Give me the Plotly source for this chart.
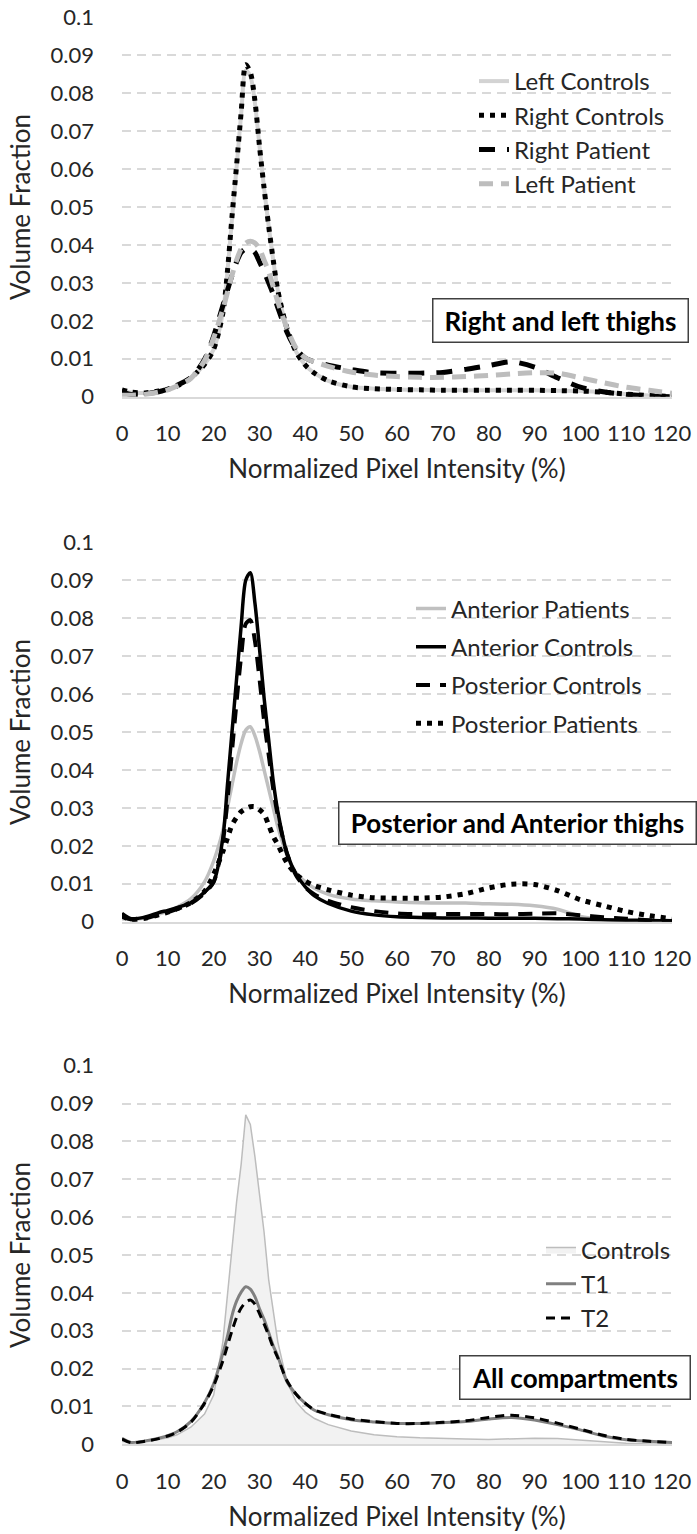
import plotly.graph_objects as go

# ---------------- data ----------------
x = [0, 2, 5, 8, 10, 12, 15, 18, 20, 22, 23, 24, 25, 26, 27, 28, 29, 30, 31, 32, 33, 34,
     36, 38, 40, 42, 45, 50, 55, 60, 65, 70, 75, 80, 85, 90, 95, 100, 105, 110, 115, 120]

# Panel 1: Right and left thighs
left_controls = [0.0016, 0.0011, 0.0010, 0.0015, 0.0020, 0.0028, 0.0050, 0.0085, 0.0125, 0.0220, 0.0330,
                 0.0470, 0.0605, 0.0745, 0.0860, 0.0845, 0.0775, 0.0660, 0.0550, 0.0450, 0.0360, 0.0280,
                 0.0180, 0.0118, 0.0083, 0.0062, 0.0042, 0.0026, 0.0021, 0.0019, 0.0018, 0.0017, 0.0017,
                 0.0017, 0.0017, 0.0017, 0.0016, 0.0015, 0.0012, 0.0007, 0.0003, 0.0001]
right_controls = [0.0018, 0.0012, 0.0010, 0.0015, 0.0020, 0.0028, 0.0050, 0.0085, 0.0125, 0.0220, 0.0330,
                  0.0475, 0.0610, 0.0750, 0.0875, 0.0855, 0.0780, 0.0660, 0.0550, 0.0450, 0.0360, 0.0280,
                  0.0180, 0.0118, 0.0083, 0.0062, 0.0042, 0.0026, 0.0021, 0.0019, 0.0018, 0.0017, 0.0017,
                  0.0017, 0.0017, 0.0017, 0.0016, 0.0015, 0.0012, 0.0007, 0.0003, 0.0001]
right_patient = [0.0012, 0.0006, 0.0008, 0.0013, 0.0020, 0.0030, 0.0050, 0.0098, 0.0160, 0.0240, 0.0280,
                 0.0320, 0.0355, 0.0380, 0.0390, 0.0390, 0.0380, 0.0355, 0.0330, 0.0300, 0.0270, 0.0235,
                 0.0170, 0.0125, 0.0102, 0.0092, 0.0083, 0.0072, 0.0063, 0.0062, 0.0062, 0.0064, 0.0072,
                 0.0082, 0.0092, 0.0078, 0.0050, 0.0025, 0.0013, 0.0006, 0.0002, 0.0000]
left_patient = [0.0004, 0.0004, 0.0006, 0.0012, 0.0018, 0.0028, 0.0048, 0.0095, 0.0155, 0.0230, 0.0275,
                0.0320, 0.0360, 0.0390, 0.0405, 0.0410, 0.0405, 0.0390, 0.0360, 0.0330, 0.0290, 0.0250,
                0.0180, 0.0128, 0.0102, 0.0092, 0.0080, 0.0065, 0.0057, 0.0053, 0.0051, 0.0051, 0.0053,
                0.0056, 0.0060, 0.0063, 0.0062, 0.0050, 0.0037, 0.0025, 0.0017, 0.0009]

# Panel 2: Posterior and Anterior thighs
anterior_patients = [0.0008, 0.0006, 0.0010, 0.0020, 0.0028, 0.0038, 0.0060, 0.0105, 0.0160, 0.0240, 0.0300,
                     0.0360, 0.0420, 0.0470, 0.0505, 0.0514, 0.0490, 0.0450, 0.0400, 0.0350, 0.0300, 0.0250,
                     0.0175, 0.0128, 0.0105, 0.0088, 0.0072, 0.0060, 0.0055, 0.0052, 0.0050, 0.0049, 0.0049,
                     0.0047, 0.0046, 0.0042, 0.0033, 0.0014, 0.0006, 0.0003, 0.0002, 0.0001]
anterior_controls = [0.0022, 0.0008, 0.0012, 0.0024, 0.0030, 0.0037, 0.0050, 0.0078, 0.0105, 0.0220, 0.0360,
                     0.0500, 0.0640, 0.0780, 0.0900, 0.0920, 0.0840, 0.0720, 0.0590, 0.0480, 0.0370, 0.0290,
                     0.0180, 0.0125, 0.0092, 0.0068, 0.0048, 0.0028, 0.0018, 0.0013, 0.0011, 0.0010, 0.0010,
                     0.0009, 0.0009, 0.0009, 0.0008, 0.0007, 0.0005, 0.0004, 0.0003, 0.0002]
posterior_controls = [0.0015, 0.0006, 0.0009, 0.0018, 0.0025, 0.0033, 0.0048, 0.0075, 0.0105, 0.0210, 0.0320,
                      0.0450, 0.0580, 0.0700, 0.0785, 0.0795, 0.0740, 0.0640, 0.0530, 0.0440, 0.0350, 0.0280,
                      0.0180, 0.0122, 0.0090, 0.0072, 0.0055, 0.0038, 0.0028, 0.0022, 0.0020, 0.0020, 0.0020,
                      0.0020, 0.0020, 0.0021, 0.0022, 0.0017, 0.0012, 0.0008, 0.0004, 0.0002]
posterior_patients = [0.0015, 0.0006, 0.0009, 0.0018, 0.0025, 0.0034, 0.0050, 0.0080, 0.0125, 0.0185, 0.0220,
                      0.0255, 0.0275, 0.0290, 0.0298, 0.0303, 0.0303, 0.0295, 0.0283, 0.0255, 0.0225, 0.0203,
                      0.0155, 0.0125, 0.0107, 0.0095, 0.0084, 0.0070, 0.0063, 0.0062, 0.0062, 0.0065, 0.0074,
                      0.0089, 0.0099, 0.0098, 0.0082, 0.0058, 0.0042, 0.0027, 0.0016, 0.0008]

# Panel 3: All compartments
controls = [0.0008, 0.0004, 0.0006, 0.0012, 0.0017, 0.0025, 0.0045, 0.0080, 0.0130, 0.0270, 0.0390,
            0.0520, 0.0640, 0.0740, 0.0870, 0.0845, 0.0760, 0.0660, 0.0560, 0.0435, 0.0350, 0.0270,
            0.0165, 0.0112, 0.0085, 0.0068, 0.0052, 0.0035, 0.0025, 0.0020, 0.0017, 0.0015, 0.0014,
            0.0013, 0.0014, 0.0016, 0.0015, 0.0011, 0.0006, 0.0003, 0.0001, 0.0000]
t1 = [0.0016, 0.0005, 0.0009, 0.0016, 0.0023, 0.0033, 0.0060, 0.0110, 0.0160, 0.0240, 0.0285,
      0.0340, 0.0378, 0.0402, 0.0416, 0.0410, 0.0390, 0.0358, 0.0330, 0.0295, 0.0260, 0.0232,
      0.0165, 0.0132, 0.0108, 0.0090, 0.0078, 0.0065, 0.0059, 0.0055, 0.0055, 0.0057, 0.0060,
      0.0067, 0.0071, 0.0064, 0.0052, 0.0038, 0.0022, 0.0012, 0.0008, 0.0005]
t2 = [0.0014, 0.0004, 0.0008, 0.0015, 0.0022, 0.0032, 0.0058, 0.0108, 0.0155, 0.0220, 0.0260,
      0.0300, 0.0335, 0.0360, 0.0375, 0.0381, 0.0370, 0.0345, 0.0318, 0.0288, 0.0255, 0.0228,
      0.0168, 0.0132, 0.0108, 0.0091, 0.0079, 0.0067, 0.0060, 0.0055, 0.0055, 0.0058, 0.0062,
      0.0071, 0.0077, 0.0070, 0.0056, 0.0040, 0.0024, 0.0013, 0.0008, 0.0005]

x_ticks = [0, 10, 20, 30, 40, 50, 60, 70, 80, 90, 100, 110, 120]
y_ticks = [0, 0.01, 0.02, 0.03, 0.04, 0.05, 0.06, 0.07, 0.08, 0.09, 0.1]
y_tick_text = ["0", "0.01", "0.02", "0.03", "0.04", "0.05", "0.06", "0.07", "0.08", "0.09", "0.1"]

panel_labels = ["Right and left thighs", "Posterior and Anterior thighs", "All compartments"]
x_title = "Normalized Pixel Intensity (%)"
y_title = "Volume Fraction"

# ---------------- figure ----------------
FONT = "Lato"
W, H = 697, 1534
fig = go.Figure()

def line_trace(y, name, color, width, dash, axis, legend, shape="spline", **kw):
    return go.Scatter(x=x, y=y, name=name, mode="lines",
                      line=dict(color=color, width=width, dash=dash, shape=shape, smoothing=0.8),
                      xaxis="x" + axis, yaxis="y" + axis, legend=legend,
                      legendgroup=name, hoverinfo="skip", **kw)

# panel 1
fig.add_trace(line_trace(left_controls, "Left Controls", "#d3d3d3", 4, "solid", "", "legend"))
fig.add_trace(line_trace(right_controls, "Right Controls", "#000000", 5, "5px,6px", "", "legend"))
fig.add_trace(line_trace(right_patient, "Right Patient", "#000000", 5, "16px,12px", "", "legend"))
fig.add_trace(line_trace(left_patient, "Left Patient", "#bdbdbd", 5, "14px,8px", "", "legend"))
# panel 2
fig.add_trace(line_trace(anterior_patients, "Anterior Patients", "#c0c0c0", 3.5, "solid", "2", "legend2"))
fig.add_trace(line_trace(anterior_controls, "Anterior Controls", "#000000", 3.5, "solid", "2", "legend2"))
fig.add_trace(line_trace(posterior_controls, "Posterior Controls", "#000000", 4, "14px,10px", "2", "legend2"))
fig.add_trace(line_trace(posterior_patients, "Posterior Patients", "#000000", 5, "5px,6px", "2", "legend2"))
# panel 3
fig.add_trace(line_trace(controls, "Controls", "#bdbdbd", 1.5, "solid", "3", "legend3", shape="linear",
                         fill="tozeroy", fillcolor="#f2f2f2"))
fig.add_trace(line_trace(t1, "T1", "#808080", 3, "solid", "3", "legend3"))
fig.add_trace(line_trace(t2, "T2", "#000000", 3, "9px,6px", "3", "legend3"))

x_dom = [122 / W, 672 / W]
y_doms = [(17.3, 396.7), (542.3, 921.7), (1065.7, 1444.3)]

tickfont = dict(family=FONT, size=22, color="#262626")
titlefont = dict(family=FONT, size=26, color="#262626")

layout = dict(width=W, height=H, margin=dict(l=0, r=0, t=0, b=0, autoexpand=False),
              paper_bgcolor="white", plot_bgcolor="white", showlegend=True)

for i, (top, bot) in enumerate(y_doms):
    s = "" if i == 0 else str(i + 1)
    layout["xaxis" + s] = dict(
        domain=x_dom, anchor="y" + s, range=[0, 120], tickvals=x_ticks, automargin=False,
        showgrid=False, zeroline=False, showline=True, linecolor="#d9d9d9", linewidth=2,
        ticks="", tickfont=tickfont, ticklabelstandoff=16,
        title=dict(text=x_title, font=titlefont, standoff=15), fixedrange=True)
    layout["yaxis" + s] = dict(
        domain=[1 - bot / H, 1 - top / H], anchor="x" + s, range=[0, 0.1], automargin=False,
        tickvals=y_ticks, ticktext=y_tick_text,
        showgrid=True, gridcolor="#d9d9d9", gridwidth=1.5, griddash="9px,6px",
        zeroline=False, showline=False, ticks="", tickfont=tickfont, ticklabelstandoff=27,
        title=dict(text=y_title, font=titlefont, standoff=12), fixedrange=True)

legfont = dict(family=FONT, size=24, color="#262626")
layout["legend"] = dict(x=474 / W, y=1 - 59 / H, xanchor="left", yanchor="top",
                        font=legfont, tracegroupgap=0, bgcolor="rgba(0,0,0,0)")
layout["legend2"] = dict(x=411 / W, y=1 - 586.5 / H, xanchor="left", yanchor="top",
                         font=legfont, tracegroupgap=4, bgcolor="rgba(0,0,0,0)")
layout["legend3"] = dict(x=541 / W, y=1 - 1227.5 / H, xanchor="left", yanchor="top",
                         font=legfont, tracegroupgap=0, bgcolor="rgba(0,0,0,0)")

fig.update_layout(**layout)

ann_font = dict(family=FONT, size=26, color="#000000")
boxes = [("", 95.7, 0.0201, 250, 38), ("2", 86.2, 0.0259, 352, 37), ("3", 98.8, 0.0176, 225, 38)]
for (s, bx, by, bw, bh), label in zip(boxes, panel_labels):
    fig.add_annotation(x=bx, y=by, xref="x" + s, yref="y" + s, text="<b>" + label + "</b>",
                       showarrow=False, font=ann_font, bordercolor="#404040", borderwidth=1.5,
                       borderpad=2, bgcolor="white", width=bw, height=bh, align="center")

fig.write_html("out.html", config={"displayModeBar": False},
               post_script="document.body.style.margin='0';document.body.style.overflow='hidden';")
